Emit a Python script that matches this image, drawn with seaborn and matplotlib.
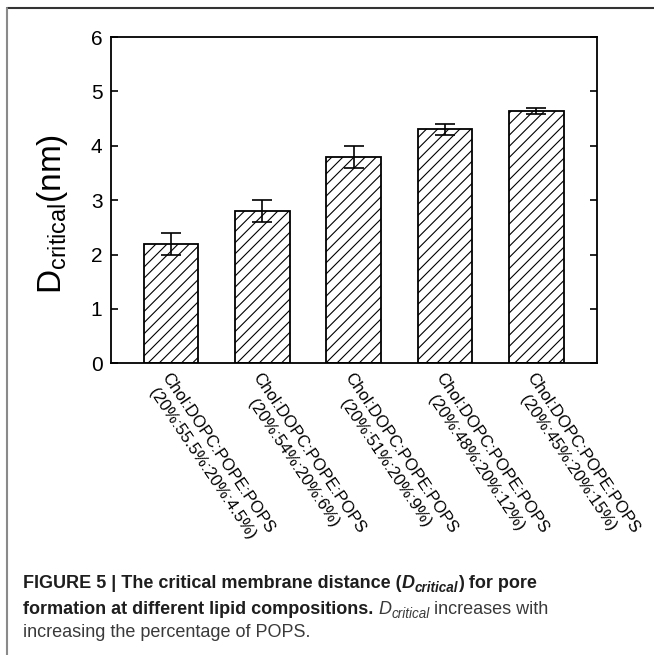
import matplotlib
matplotlib.use("Agg")
import numpy as np
import pandas as pd
import matplotlib.pyplot as plt
import seaborn as sns
from matplotlib.lines import Line2D

# --- data ---
compositions = [
    "Chol:DOPC:POPE:POPS\n(20%:55.5%:20%:4.5%)",
    "Chol:DOPC:POPE:POPS\n(20%:54%:20%:6%)",
    "Chol:DOPC:POPE:POPS\n(20%:51%:20%:9%)",
    "Chol:DOPC:POPE:POPS\n(20%:48%:20%:12%)",
    "Chol:DOPC:POPE:POPS\n(20%:45%:20%:15%)",
]
d_critical = [2.2, 2.8, 3.8, 4.3, 4.64]
d_err = [0.2, 0.2, 0.2, 0.1, 0.05]
y_ticks = [0, 1, 2, 3, 4, 5, 6]

# caption pieces: (text, weight, style, subscript, space_before)
caption = [
    [("FIGURE 5 | The critical membrane distance (", "bold", "normal", False, False),
     ("D", "bold", "italic", False, False),
     ("critical", "bold", "italic", True, False),
     (") for pore", "bold", "normal", False, False)],
    [("formation at different lipid compositions.", "bold", "normal", False, False),
     ("D", "normal", "italic", False, True),
     ("critical", "normal", "italic", True, False),
     ("increases with", "normal", "normal", False, True)],
    [("increasing the percentage of POPS.", "normal", "normal", False, False)],
]

# --- style ---
sns.set_theme(style="ticks")
plt.rcParams["font.family"] = ["Liberation Sans", "DejaVu Sans"]
plt.rcParams["mathtext.fontset"] = "custom"
plt.rcParams["mathtext.rm"] = "Liberation Sans"
plt.rcParams["mathtext.it"] = "Liberation Sans:italic"
plt.rcParams["mathtext.bf"] = "Liberation Sans:bold"
plt.rcParams["hatch.linewidth"] = 0.8
plt.rcParams["hatch.color"] = "black"

df = pd.DataFrame({"comp": compositions, "d": d_critical})

fig = plt.figure(figsize=(6.54, 6.55), dpi=100)
ax = fig.add_axes([0.1693, 0.4453, 0.7431, 0.4982])

sns.barplot(data=df, x="comp", y="d", color="white", saturation=1,
            edgecolor="black", linewidth=1.3, width=0.6, hatch="///",
            errorbar=None, ax=ax)
ax.errorbar(np.arange(len(d_critical)), d_critical, yerr=d_err, fmt="none",
            ecolor="black", elinewidth=1.2, capsize=7.2, capthick=1.2, zorder=4)

ax.set_xlim(-0.66, 4.66)
ax.set_ylim(0, 6)
ax.set_yticks(y_ticks)
ax.set_xticks(range(len(compositions)))
ax.set_xticklabels(compositions, rotation=-56, ha="left", va="top",
                   rotation_mode="anchor", multialignment="center",
                   linespacing=1.3)
ax.set_xlabel("")
ax.tick_params(axis="y", direction="in", left=True, right=True, length=5,
               width=1.2, labelsize=15, pad=6, colors="black")
ax.tick_params(axis="x", direction="in", bottom=True, top=False, length=4.5,
               width=1.2, labelsize=12.1, pad=5, colors="black")
for sp in ax.spines.values():
    sp.set_visible(True)
    sp.set_linewidth(1.3)
    sp.set_color("black")

ax.set_ylabel(r"D$_{\mathregular{critical}}$(nm)", fontsize=24, color="black")
ax.yaxis.set_label_coords(-0.084, 0.458)

# frame lines of the figure panel
fig.add_artist(Line2D([7 / 654, 1], [1 - 8 / 655] * 2, transform=fig.transFigure,
                      color="#333333", lw=1.5))
fig.add_artist(Line2D([7 / 654] * 2, [0, 1 - 8 / 655], transform=fig.transFigure,
                      color="#8a8a8a", lw=1.5))

# caption, drawn piece by piece
renderer = fig.canvas.get_renderer()
cap_size = 13
baselines = [1 - 588 / 655, 1 - 614 / 655, 1 - 637 / 655]
for line, yb in zip(caption, baselines):
    x = 22.7 / 654
    for text, weight, style, sub, space in line:
        size = cap_size * 0.75 if sub else cap_size
        color = "#1e1e1e" if weight == "bold" else "#3a3a3a"
        if space:
            probe = fig.text(0, 0, "x x", fontsize=cap_size, weight=weight)
            probe2 = fig.text(0, 0, "xx", fontsize=cap_size, weight=weight)
            gap = (probe.get_window_extent(renderer).width
                   - probe2.get_window_extent(renderer).width)
            probe.remove()
            probe2.remove()
            x += gap / fig.bbox.width
        y = yb - (4 / 655 if sub else 0)
        t = fig.text(x, y, text, fontsize=size, weight=weight, style=style,
                     color=color, va="baseline", ha="left")
        x += t.get_window_extent(renderer).width / fig.bbox.width

fig.savefig("out.png", dpi=100)
